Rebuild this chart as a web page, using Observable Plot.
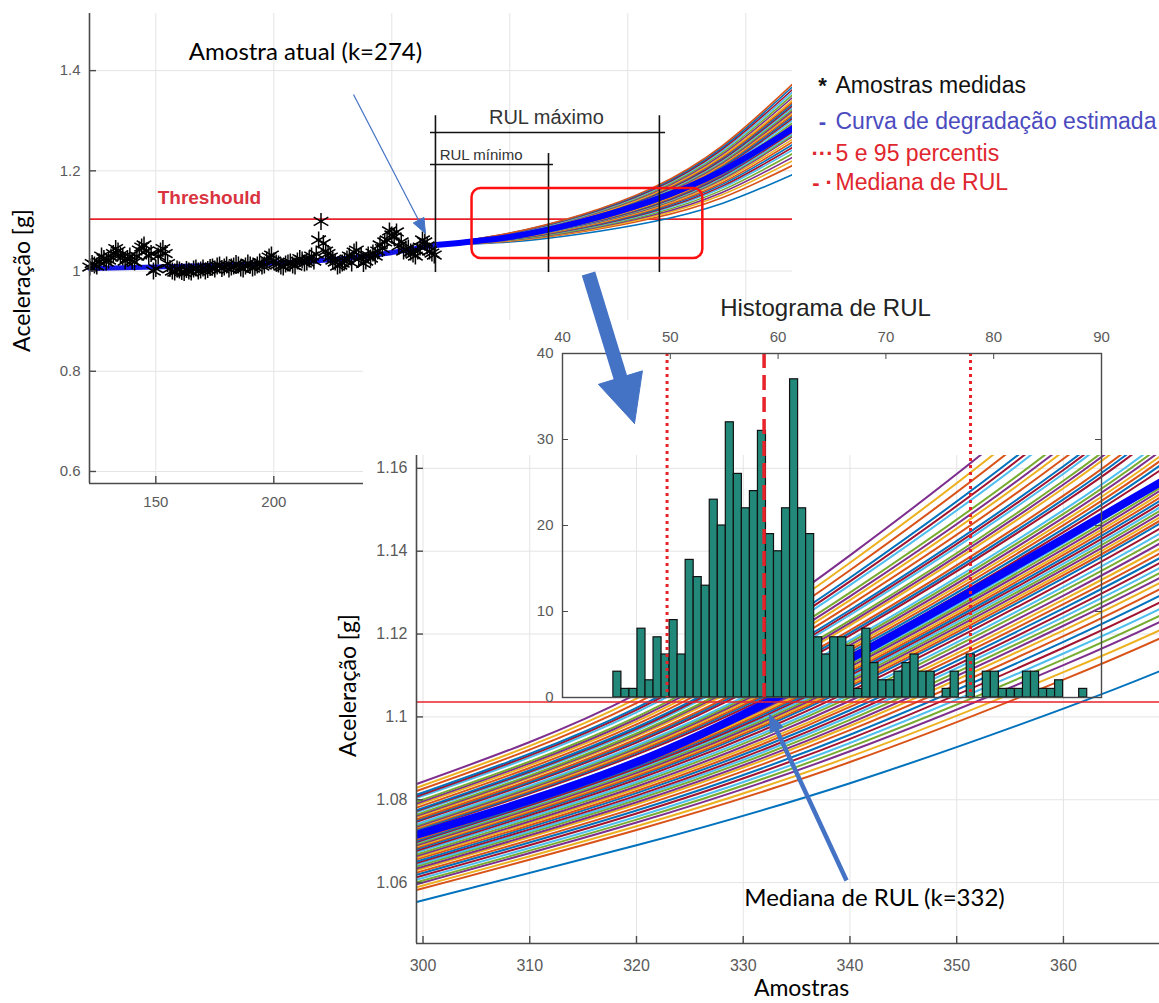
<!DOCTYPE html>
<html><head><meta charset="utf-8">
<script src="https://cdn.jsdelivr.net/npm/d3@7"></script>
<script src="https://cdn.jsdelivr.net/npm/@observablehq/plot@0.6"></script>
<style>
body{margin:0;background:#fff;}
#stage{position:relative;width:1159px;height:1003px;overflow:hidden;background:#fff;}
.layer{position:absolute;}
.layer svg{overflow:visible;max-width:none;}
</style></head><body><div id="stage"></div>
<script>
// ================= DATA =================
// measured samples (top chart): one per sample index k = 122 ... 268
const sampleFirstK = 122;
const sampleAccel = [1.008,1.015,1.012,1.010,1.018,1.030,1.025,1.018,1.022,1.028,
1.035,1.045,1.040,1.032,1.028,1.020,1.025,1.030,1.020,1.018,
1.030,1.042,1.048,1.052,1.040,1.030,1.035,1.000,1.005,1.030,
1.040,1.045,1.035,1.015,1.005,1.000,0.998,1.004,1.002,0.999,
0.997,1.003,1.000,0.998,1.004,1.006,1.000,1.002,1.006,1.000,
1.003,1.007,1.008,1.004,1.010,1.012,1.005,1.008,1.012,1.004,
1.008,1.010,1.015,1.012,1.006,1.004,1.010,1.016,1.012,1.006,
1.008,1.012,1.018,1.010,1.012,1.022,1.028,1.032,1.020,1.016,
1.014,1.010,1.008,1.014,1.016,1.018,1.012,1.010,1.020,1.025,
1.022,1.016,1.018,1.024,1.030,1.020,1.034,1.062,1.099,1.055,
1.040,1.035,1.028,1.022,1.018,1.010,1.012,1.016,1.020,1.024,
1.030,1.016,1.038,1.042,1.025,1.030,1.015,1.020,1.032,1.026,
1.036,1.030,1.040,1.052,1.045,1.058,1.062,1.080,1.072,1.068,
1.078,1.050,1.058,1.040,1.044,1.046,1.038,1.034,1.030,1.040,
1.048,1.062,1.058,1.050,1.040,1.036,1.032];
// estimated degradation curve over the measured samples
const fitK = [122,150,180,210,240,268.5];
const fitAccel = [1.005,1.008,1.012,1.018,1.030,1.052];
// top chart: projected curves (values at knots)
const topFanK = [268.5,300,330,360,390,420];
const fanStartAccel = 1.052;
const topFan300 = [1.0580,1.0598,1.0607,1.0614,1.0621,1.0629,1.0634,1.0639,1.0645,1.0650,1.0656,1.0658,1.0661,1.0665,1.0668,1.0672,1.0675,1.0679,1.0683,1.0688,1.0692,1.0695,1.0699,1.0702,1.0706,1.0710,1.0713,1.0717,1.0720,1.0724,1.0728,1.0733,1.0738,1.0744,1.0749,1.0755,1.0760];
const topFan330 = [1.0740,1.0778,1.0797,1.0812,1.0827,1.0843,1.0854,1.0865,1.0877,1.0888,1.0900,1.0905,1.0911,1.0919,1.0926,1.0934,1.0941,1.0949,1.0957,1.0968,1.0976,1.0983,1.0991,1.0998,1.1006,1.1014,1.1021,1.1029,1.1036,1.1044,1.1052,1.1063,1.1074,1.1086,1.1097,1.1109,1.1120];
const topFan360 = [1.0980,1.1047,1.1081,1.1107,1.1134,1.1161,1.1181,1.1201,1.1221,1.1241,1.1261,1.1271,1.1282,1.1295,1.1308,1.1322,1.1335,1.1349,1.1362,1.1382,1.1395,1.1409,1.1422,1.1436,1.1449,1.1462,1.1476,1.1489,1.1503,1.1516,1.1529,1.1550,1.1570,1.1590,1.1610,1.1630,1.1650];
const topFan390 = [1.1350,1.1465,1.1523,1.1569,1.1615,1.1661,1.1695,1.1730,1.1764,1.1799,1.1833,1.1850,1.1868,1.1891,1.1914,1.1937,1.1960,1.1983,1.2006,1.2040,1.2063,1.2086,1.2109,1.2132,1.2155,1.2178,1.2201,1.2224,1.2247,1.2270,1.2293,1.2328,1.2362,1.2397,1.2431,1.2466,1.2500];
const topFan420 = [1.1930,1.2111,1.2202,1.2274,1.2346,1.2419,1.2473,1.2527,1.2582,1.2636,1.2690,1.2717,1.2745,1.2781,1.2817,1.2853,1.2889,1.2926,1.2962,1.3016,1.3052,1.3088,1.3125,1.3161,1.3197,1.3233,1.3269,1.3306,1.3342,1.3378,1.3414,1.3469,1.3523,1.3577,1.3631,1.3686,1.3740];
const topMedian = [1.052,1.068,1.098,1.140,1.200,1.285];
// zoomed chart: projected curves (values at knots)
const zoomFanK = [299.4,320,340,360,369];
const zoomFan299 = [1.0553,1.0582,1.0589,1.0596,1.0601,1.0607,1.0613,1.0619,1.0624,1.0630,1.0634,1.0639,1.0643,1.0647,1.0651,1.0656,1.0660,1.0664,1.0668,1.0673,1.0677,1.0681,1.0684,1.0687,1.0690,1.0693,1.0696,1.0698,1.0701,1.0704,1.0707,1.0710,1.0713,1.0715,1.0724,1.0727,1.0730,1.0733,1.0735,1.0738,1.0741,1.0747,1.0750,1.0753,1.0758,1.0761,1.0764,1.0770,1.0773,1.0775,1.0781,1.0787,1.0791,1.0795,1.0804,1.0808,1.0812,1.0821,1.0829,1.0838];
const zoomFan320 = [1.0690,1.0727,1.0736,1.0745,1.0752,1.0759,1.0767,1.0774,1.0781,1.0789,1.0794,1.0800,1.0805,1.0810,1.0816,1.0821,1.0827,1.0832,1.0838,1.0843,1.0849,1.0854,1.0858,1.0862,1.0865,1.0869,1.0873,1.0876,1.0880,1.0883,1.0887,1.0891,1.0894,1.0898,1.0909,1.0913,1.0916,1.0920,1.0924,1.0927,1.0931,1.0938,1.0942,1.0946,1.0953,1.0957,1.0960,1.0967,1.0971,1.0975,1.0982,1.0989,1.0995,1.1000,1.1011,1.1017,1.1022,1.1033,1.1044,1.1055];
const zoomFan340 = [1.0840,1.0891,1.0904,1.0917,1.0927,1.0937,1.0947,1.0957,1.0968,1.0978,1.0985,1.0993,1.1001,1.1008,1.1016,1.1024,1.1031,1.1039,1.1047,1.1054,1.1062,1.1070,1.1075,1.1080,1.1085,1.1090,1.1095,1.1100,1.1105,1.1110,1.1115,1.1121,1.1126,1.1131,1.1149,1.1155,1.1161,1.1167,1.1173,1.1179,1.1185,1.1197,1.1203,1.1209,1.1221,1.1227,1.1233,1.1246,1.1252,1.1258,1.1270,1.1282,1.1291,1.1300,1.1318,1.1327,1.1336,1.1354,1.1372,1.1390];
const zoomFan360 = [1.1020,1.1090,1.1108,1.1125,1.1139,1.1153,1.1167,1.1181,1.1195,1.1209,1.1220,1.1230,1.1241,1.1251,1.1262,1.1272,1.1283,1.1293,1.1304,1.1314,1.1325,1.1335,1.1342,1.1349,1.1356,1.1363,1.1370,1.1377,1.1384,1.1391,1.1398,1.1405,1.1412,1.1419,1.1446,1.1454,1.1463,1.1472,1.1481,1.1490,1.1499,1.1517,1.1525,1.1534,1.1552,1.1561,1.1570,1.1587,1.1596,1.1605,1.1623,1.1641,1.1654,1.1667,1.1694,1.1707,1.1720,1.1747,1.1773,1.1800];
const zoomFan369 = [1.1110,1.1189,1.1209,1.1229,1.1244,1.1260,1.1276,1.1292,1.1308,1.1323,1.1335,1.1347,1.1359,1.1371,1.1383,1.1394,1.1406,1.1418,1.1430,1.1442,1.1454,1.1466,1.1473,1.1481,1.1489,1.1497,1.1505,1.1513,1.1521,1.1529,1.1537,1.1545,1.1552,1.1560,1.1594,1.1606,1.1617,1.1628,1.1640,1.1651,1.1663,1.1685,1.1697,1.1708,1.1731,1.1742,1.1754,1.1777,1.1788,1.1799,1.1822,1.1845,1.1862,1.1879,1.1913,1.1930,1.1947,1.1982,1.2016,1.2050];
const zoomMedian = [1.0715,1.0891,1.114,1.143,1.1565];
const threshold = 1.1036;
// RUL markers (top chart): current sample, RUL minimum, RUL maximum
const rulMarkK = [268.5, 316.4, 363.4];
// histogram of RUL
const rulBinStart = 44.72;
const rulBinWidth = 0.745;
const rulCounts = [3,1,1,8,2,7,5,9,5,16,14,13,23,20,32,26,22,24,31,19,17,22,37,22,19,7,5,7,7,6,1,8,4,2,2,3,4,5,3,3,0,1,3,0,5,0,3,3,1,1,1,3,3,1,1,2,0,0,1];
const rulPercentiles = [49.7, 77.85];
const rulMedian = 58.7;
// tick labels
const topXTicks = [150,200,250,300,350,400];
const topYTicks = [0.6,0.8,1,1.2,1.4];
const zoomXTicks = [300,310,320,330,340,350,360];
const zoomYTicks = [1.06,1.08,1.1,1.12,1.14,1.16];
const histXTicks = [40,50,60,70,80,90];
const histYTicks = [0,10,20,30,40];
// legend
const legendSymbols = ["*","-","···","- ·"];
const legendLabels = ["Amostras medidas","Curva de degradação estimada","5 e 95 percentis","Mediana de RUL"];

// ================= LAYOUT / STYLE =================
const fanPalette = ["#0072BD","#D95319","#EDB120","#7E2F8E","#77AC30","#4DBEEE","#A2142F"];
const RED = "#e8222a";
const AXIS = "#4a4a4a";
const GRID = "#e4e4e4";
const baseStyle = {background:"transparent", fontFamily:"'Liberation Sans', Arial, sans-serif", fontSize:"15px", color:"#5a5a5a", overflow:"visible"};
const stage = document.getElementById("stage");
function place(node, left, top, w, h){
  const d = document.createElement("div");
  d.className = "layer";
  Object.assign(d.style,{left:left+"px",top:top+"px",width:w+"px",height:h+"px"});
  if (node) d.appendChild(node);
  stage.appendChild(d);
  return d;
}
const fmt = d => String(d);

// ---------- top chart ----------
const T = {w:800,h:520,ml:89,mr:8,mt:13,mb:37};
const tFH = T.h-T.mt-T.mb, tFW = T.w-T.ml-T.mr;
const topXDomain = [121.9, 419.8], topYDomain = [0.576, 1.514];
const samples = sampleAccel.map((y,i)=>({k: sampleFirstK + i, y}));
const fitRows = fitK.map((k,i)=>({k, y: fitAccel[i]}));
const topFanRows = [];
topFan300.forEach((_,i)=>{
  const v = [fanStartAccel, topFan300[i], topFan330[i], topFan360[i], topFan390[i], topFan420[i]];
  topFanK.forEach((k,j)=>topFanRows.push({curve:i, k, y:v[j], color: fanPalette[i%7]}));
});
const topMedRows = topFanK.map((k,i)=>({k, y: topMedian[i]}));
const rulV = [
  {k: rulMarkK[0], y1: 0.997, y2: 1.310},
  {k: rulMarkK[1], y1: 0.997, y2: 1.2345},
  {k: rulMarkK[2], y1: 0.997, y2: 1.310}
];
const rulH = [
  {y: 1.2764, x1: rulMarkK[0]-2.1, x2: rulMarkK[2]+2.6},
  {y: 1.2126, x1: rulMarkK[0]-2.1, x2: rulMarkK[1]+2.1}
];
const arial = "'Liberation Sans', Arial, sans-serif";
const topChart = Plot.plot({
  width:T.w, height:T.h, marginLeft:T.ml, marginRight:T.mr, marginTop:T.mt, marginBottom:T.mb,
  style: baseStyle,
  color: {type:"identity"},
  x: {domain: topXDomain, ticks: topXTicks, tickSize: 0, tickPadding: 13, tickFormat: fmt, label: null},
  y: {domain: topYDomain, ticks: topYTicks, tickSize: 0, tickPadding: 9, tickFormat: fmt, label: null},
  marks: [
    Plot.ruleX(topXTicks, {stroke: GRID}),
    Plot.ruleY(topYTicks, {stroke: GRID}),
    Plot.ruleY([threshold], {stroke: RED, strokeWidth: 1.6}),
    Plot.line(topFanRows, {x:"k", y:"y", z:"curve", stroke:"color", strokeWidth:1.6, curve:"natural", clip:true}),
    Plot.line(topMedRows, {x:"k", y:"y", stroke:"#0000ff", strokeWidth:6, curve:"natural", clip:true}),
    Plot.line(fitRows, {x:"k", y:"y", stroke:"#1414e6", strokeWidth:5, curve:"natural"}),
    Plot.dot(samples, {x:"k", y:"y", symbol:"asterisk", r:8, stroke:"#000", strokeWidth:1.5}),
    Plot.ruleX(rulV, {x:"k", y1:"y1", y2:"y2", stroke:"#111", strokeWidth:1.6}),
    Plot.ruleY(rulH, {y:"y", x1:"x1", x2:"x2", stroke:"#111", strokeWidth:1.6}),
    Plot.text(["RUL máximo"], {x: 315.5, y: 1.307, text: d=>d, fontSize: 20, fill:"#333", fontFamily: arial}),
    Plot.text(["RUL mínimo"], {x: 270.3, y: 1.2305, text: d=>d, fontSize: 15, fill:"#333", textAnchor:"start", fontFamily: arial}),
    Plot.text(["Threshould"], {x: 150.8, y: 1.1465, text: d=>d, fontSize: 19, fontWeight:"bold", fill:"#d9343f", textAnchor:"start", fontFamily: arial}),
    Plot.rect([{x1:284, x2:381.8, y1:1.025, y2:1.1647}], {x1:"x1", x2:"x2", y1:"y1", y2:"y2", fill:"none", stroke:"#ff1010", strokeWidth:2.5, rx:9}),
    Plot.ruleX([topXDomain[0]], {stroke: AXIS, strokeWidth:1.6}),
    Plot.ruleY([topYDomain[0]], {stroke: AXIS, strokeWidth:1.6}),
    Plot.tickX(topXTicks, {x:d=>d, insetTop: tFH-7, stroke: AXIS, strokeWidth:1.4}),
    Plot.tickY(topYTicks, {y:d=>d, insetRight: tFW-7, stroke: AXIS, strokeWidth:1.4})
  ]
});
place(topChart, 0, 0, T.w, T.h);

// white backdrop of the lower (zoom + histogram) figure
const cover = place(null, 363, 320, 1159-363, 1003-320);
cover.style.background = "#fff";

// ---------- zoomed chart ----------
const Z = {left:330, top:440, w:829, h:563, ml:86, mr:0, mt:15, mb:60};
const zFH = Z.h-Z.mt-Z.mb, zFW = Z.w-Z.ml-Z.mr;
const zoomXDomain = [299.39, 369.0], zoomYDomain = [1.0453, 1.1631];
const zoomFanRows = [];
zoomFan299.forEach((_,i)=>{
  const v = [zoomFan299[i], zoomFan320[i], zoomFan340[i], zoomFan360[i], zoomFan369[i]];
  zoomFanK.forEach((k,j)=>zoomFanRows.push({curve:i, k, y:v[j], color: fanPalette[i%7]}));
});
const zoomMedRows = zoomFanK.map((k,i)=>({k, y: zoomMedian[i]}));
const zoomChart = Plot.plot({
  width:Z.w, height:Z.h, marginLeft:Z.ml, marginRight:Z.mr, marginTop:Z.mt, marginBottom:Z.mb,
  style: {...baseStyle, fontSize:"16px"},
  color: {type:"identity"},
  x: {domain: zoomXDomain, ticks: zoomXTicks, tickSize:0, tickPadding:16, tickFormat: fmt, label:null},
  y: {domain: zoomYDomain, ticks: zoomYTicks, tickSize:0, tickPadding:9, tickFormat: fmt, label:null},
  marks: [
    Plot.ruleX(zoomXTicks, {stroke: GRID}),
    Plot.ruleY(zoomYTicks, {stroke: GRID}),
    Plot.line(zoomFanRows, {x:"k", y:"y", z:"curve", stroke:"color", strokeWidth:2, curve:"natural", clip:true}),
    Plot.line(zoomMedRows, {x:"k", y:"y", stroke:"#0000ff", strokeWidth:8, curve:"natural", clip:true}),
    Plot.ruleY([threshold], {stroke: RED, strokeWidth:1.6}),
    Plot.ruleX([zoomXDomain[0]], {stroke: AXIS, strokeWidth:1.6}),
    Plot.ruleY([zoomYDomain[0]], {stroke: AXIS, strokeWidth:1.6}),
    Plot.tickX(zoomXTicks, {x:d=>d, insetTop: zFH-7, stroke: AXIS, strokeWidth:1.4}),
    Plot.tickY(zoomYTicks, {y:d=>d, insetRight: zFW-7, stroke: AXIS, strokeWidth:1.4})
  ]
});
place(zoomChart, Z.left, Z.top, Z.w, Z.h);

// ---------- histogram ----------
const Hh = {left:520, top:290, w:639, h:420, ml:42, mr:58, mt:63, mb:13};
const hFH = Hh.h-Hh.mt-Hh.mb, hFW = Hh.w-Hh.ml-Hh.mr;
const histRows = rulCounts.map((c,i)=>({x1: rulBinStart+i*rulBinWidth, x2: rulBinStart+(i+1)*rulBinWidth, count:c}));
const histChart = Plot.plot({
  width:Hh.w, height:Hh.h, marginLeft:Hh.ml, marginRight:Hh.mr, marginTop:Hh.mt, marginBottom:Hh.mb,
  style: baseStyle,
  x: {domain:[40,90], axis:"top", ticks: histXTicks, tickSize:0, tickPadding:12, tickFormat: fmt, label:null},
  y: {domain:[0,40], ticks: histYTicks, tickSize:0, tickPadding:9, tickFormat: fmt, label:null},
  marks: [
    Plot.rectY(histRows, {x1:"x1", x2:"x2", y:"count", fill:"#22897a", stroke:"#111", strokeWidth:1.2, insetLeft:0, insetRight:0}),
    Plot.ruleX(rulPercentiles, {stroke: RED, strokeWidth:3, strokeDasharray:"3,4"}),
    Plot.ruleX([rulMedian], {stroke: RED, strokeWidth:3.5, strokeDasharray:"15,7"}),
    Plot.frame({stroke: AXIS, strokeWidth:1.4}),
    Plot.tickX(histXTicks, {x:d=>d, insetBottom: hFH-6, stroke: AXIS}),
    Plot.tickY(histYTicks, {y:d=>d, insetRight: hFW-6, stroke: AXIS}),
    Plot.tickY(histYTicks, {y:d=>d, insetLeft: hFW-6, stroke: AXIS})
  ]
});
place(histChart, Hh.left, Hh.top, Hh.w, Hh.h);

// ---------- annotation overlay ----------
const arrows = [
  {tail:[353,94], tip:[425,233], shaft:1.2, headLen:15, headW:12, color:"#4472C4"},
  {tail:[588,273], tip:[634,423], shaft:14, headLen:48, headW:46, color:"#4472C4"},
  {tail:[846,880], tip:[769,714], shaft:4.5, headLen:17, headW:14, color:"#4472C4"}
];
const shafts = [], heads = [];
arrows.forEach((a,i)=>{
  const dx=a.tip[0]-a.tail[0], dy=a.tip[1]-a.tail[1], L=Math.hypot(dx,dy);
  const ux=dx/L, uy=dy/L, px=-uy, py=ux;
  const bx=a.tip[0]-ux*a.headLen, by=a.tip[1]-uy*a.headLen;
  shafts.push({x1:a.tail[0], y1:a.tail[1], x2:bx+ux*2, y2:by+uy*2, w:a.shaft, color:a.color});
  heads.push([
    {id:i, x:a.tip[0], y:a.tip[1]},
    {id:i, x:bx+px*a.headW/2, y:by+py*a.headW/2},
    {id:i, x:bx-px*a.headW/2, y:by-py*a.headW/2},
    {id:i, x:a.tip[0], y:a.tip[1]}
  ]);
});
const calibri = "Lato, 'Open Sans', sans-serif";
const legendColors = ["#111","#4b4bbf","#e0262e","#e0262e"];
const legendY = [85,121,153,182];
const legendRows = legendLabels.map((t,i)=>({t, s: legendSymbols[i], c: legendColors[i], y: legendY[i]}));
const overlayMarks = [
  ...shafts.map(s=>Plot.link([s], {x1:"x1", y1:"y1", x2:"x2", y2:"y2", stroke:s.color, strokeWidth:s.w, strokeLinecap:"butt"})),
  ...heads.map(h=>Plot.line(h, {x:"x", y:"y", fill:"#4472C4", stroke:"#4472C4", strokeWidth:1, curve:"linear"})),
  Plot.text(["Amostra atual (k=274)"], {x:305, y:52, text:d=>d, fontSize:24, fontFamily:calibri, fill:"#000"}),
  Plot.text(["Mediana de RUL (k=332)"], {x:874, y:898, text:d=>d, fontSize:24, fontFamily:calibri, fill:"#000"}),
  Plot.text(["Aceleração [g]"], {x:22, y:280, text:d=>d, fontSize:23, fontFamily:calibri, fill:"#000", rotate:-90}),
  Plot.text(["Aceleração [g]"], {x:348, y:685, text:d=>d, fontSize:23, fontFamily:calibri, fill:"#000", rotate:-90}),
  Plot.text(["Amostras"], {x:801, y:988, text:d=>d, fontSize:23, fontFamily:calibri, fill:"#000"}),
  Plot.text(["Histograma de RUL"], {x:825, y:308, text:d=>d, fontSize:24, fontFamily:arial, fill:"#222"}),
  Plot.text(legendRows, {x:835, y:"y", text:"t", fill:"c", fontSize:23, fontFamily:arial, textAnchor:"start"}),
  Plot.text(legendRows, {x:822, y:"y", text:"s", fill:"c", fontSize:22, fontWeight:"bold", fontFamily:arial, textAnchor:"middle"})
];
const overlay = Plot.plot({
  width:1159, height:1003, margin:0,
  style:{background:"transparent", overflow:"visible"},
  color:{type:"identity"},
  x:{domain:[0,1159], range:[0,1159], axis:null},
  y:{domain:[0,1003], range:[0,1003], axis:null},
  marks: overlayMarks
});
place(overlay, 0, 0, 1159, 1003);
</script></body></html>
